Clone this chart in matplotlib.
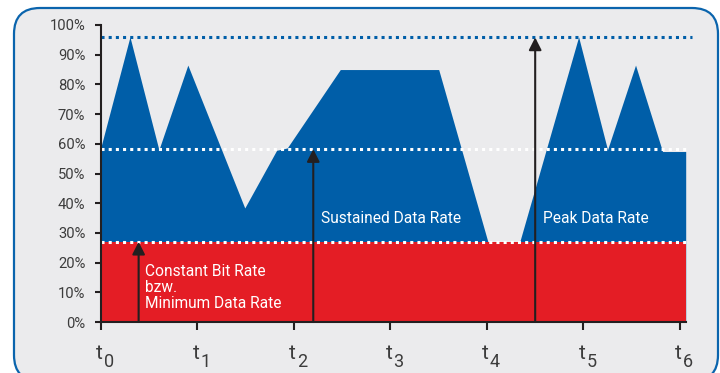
import matplotlib
matplotlib.use("Agg")
import matplotlib.pyplot as plt
from matplotlib.patches import FancyBboxPatch
from matplotlib.transforms import IdentityTransform

plt.rcParams['font.family'] = ['Roboto', 'DejaVu Sans']

# data rate profile (time in t units, rate in %)
t = [0, 0.30, 0.60, 0.90, 1.49, 1.82, 1.93, 2.48, 3.50, 4.01, 4.34, 4.95, 5.25, 5.54, 5.82, 6.06]
rate = [59, 96, 58, 86.5, 38.4, 57.8, 58.6, 85, 85, 27, 27, 96, 58, 86.5, 57.4, 57.4]

min_rate = 27        # constant bit rate / minimum data rate
sustained = 58.2     # sustained data rate
peak = 95.8          # peak data rate

arrow_x = [0.39, 2.20, 4.50]
arrow_top = [min_rate, sustained, peak]

tick_pos = [0, 1, 2, 3, 4, 5, 6]
tick_sub = ['0', '1', '2', '3', '4', '5', '6']
y_ticks = list(range(0, 101, 10))

blue = '#005ea8'
red = '#e41d25'
bg = '#ebebed'
dark = '#231f20'
grey = '#3c3c3c'

fig = plt.figure(figsize=(7.2, 3.73), dpi=100)
fig.patch.set_facecolor('white')

# rounded panel behind the chart (pixel coords)
box = FancyBboxPatch((14, -8), 704, 373, boxstyle='round,pad=0,rounding_size=26',
                     transform=IdentityTransform(), facecolor=bg, edgecolor='#0a64ad',
                     linewidth=1.6, zorder=-5)
fig.patches.append(box)

ax = fig.add_axes([101 / 720, 1 - 322 / 373, (685.7 - 101) / 720, (322 - 25) / 373])
ax.set_facecolor('none')
ax.set_xlim(0, 6.06)
ax.set_ylim(0, 100)

ax.fill_between(t, 0, rate, color=blue, linewidth=0, zorder=1)
ax.fill_between([0, 6.06], 0, min_rate, color=red, linewidth=0, zorder=2)

dots = dict(linewidth=2.2, linestyle=(0, (1, 1.35)), dash_capstyle='butt', clip_on=False, zorder=3)
ax.plot([0, 6.13], [peak, peak], color=blue, **dots)
ax.plot([0, 6.06], [sustained, sustained], color='white', **dots)
ax.plot([0, 6.06], [min_rate, min_rate], color='white', **dots)

for xa, ya in zip(arrow_x, arrow_top):
    ax.annotate('', xy=(xa, ya), xytext=(xa, 0),
                arrowprops=dict(arrowstyle='-|>,head_length=0.75,head_width=0.38', color=dark,
                                lw=1.5, shrinkA=0, shrinkB=0, mutation_scale=10), zorder=4)

ax.text(0.456, 11.6, 'Constant Bit Rate\nbzw.\nMinimum Data Rate', color='white',
        fontsize=11.2, va='center', ha='left', linespacing=1.1, zorder=5)
ax.text(2.28, 33.2, 'Sustained Data Rate', color='white', fontsize=11.2, va='baseline', zorder=5)
ax.text(4.58, 33.2, 'Peak Data Rate', color='white', fontsize=11.2, va='baseline', zorder=5)

for s in ['top', 'right']:
    ax.spines[s].set_visible(False)
for s in ['left', 'bottom']:
    ax.spines[s].set_color(dark)
    ax.spines[s].set_linewidth(1.5)
    ax.spines[s].set_zorder(6)

ax.set_yticks(y_ticks)
ax.set_yticklabels(['%d%%' % v for v in y_ticks])
ax.set_xticks(tick_pos)
ax.set_xticklabels([])
ax.tick_params(axis='y', length=4.3, width=1.5, color=dark, labelsize=10.6, labelcolor=grey, pad=7)
ax.tick_params(axis='x', length=5.8, width=1.5, color=dark)

# x tick labels: "t" with a large subscript index
for xp, sub in zip(tick_pos, tick_sub):
    ax.annotate('t', xy=(xp, 0), xycoords=('data', 'axes fraction'), xytext=(-1.5, -37.3),
                textcoords='offset pixels', ha='center', va='baseline', fontsize=15, color=grey)
    ax.annotate(sub, xy=(xp, 0), xycoords=('data', 'axes fraction'), xytext=(3, -44.7),
                textcoords='offset pixels', ha='left', va='baseline', fontsize=13, color=grey)

fig.savefig('out.png', dpi=100, facecolor='white')
